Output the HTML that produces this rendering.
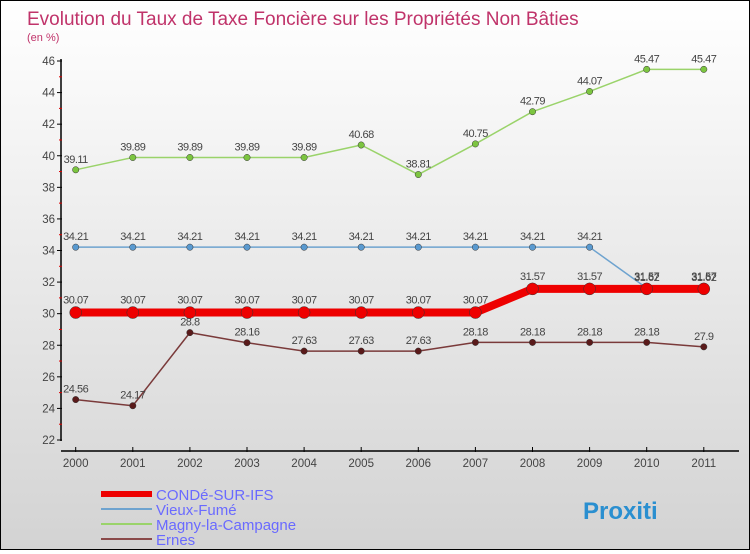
<!DOCTYPE html>
<html><head><meta charset="utf-8"><style>
body{margin:0}
#wrap{width:748px;height:548px;border:1px solid #000;background:linear-gradient(#fff,#d3d3d3);position:relative;font-family:"Liberation Sans",sans-serif}
</style></head><body>
<div id="wrap">
<svg id="chart" width="748" height="548"></svg>
</div>
<script>
const years=["2000","2001","2002","2003","2004","2005","2006","2007","2008","2009","2010","2011"];
const conde=[30.07,30.07,30.07,30.07,30.07,30.07,30.07,30.07,31.57,31.57,31.57,31.57];
const vieux=[34.21,34.21,34.21,34.21,34.21,34.21,34.21,34.21,34.21,34.21,31.62,31.62];
const magny=[39.11,39.89,39.89,39.89,39.89,40.68,38.81,40.75,42.79,44.07,45.47,45.47];
const ernes=[24.56,24.17,28.8,28.16,27.63,27.63,27.63,28.18,28.18,28.18,28.18,27.9];
const yTicks=[22,24,26,28,30,32,34,36,38,40,42,44,46];
const NS="http://www.w3.org/2000/svg";
const svg=document.getElementById('chart');
const X=i=>74.7+i*57.1;
const Y=v=>439-(v-22)*(379/24);
function mk(tag,attrs,parent){const e=document.createElementNS(NS,tag);for(const k in attrs)e.setAttribute(k,attrs[k]);(parent||svg).appendChild(e);return e;}
function txt(x,y,s,attrs){const t=mk('text',Object.assign({x:x,y:y},attrs));t.textContent=s;return t;}
let t=txt(26,24,"Evolution du Taux de Taxe Foncière sur les Propriétés Non Bâties",{fill:"#c0336a","font-size":"19"});

t=txt(26,40,"(en %)",{fill:"#c0336a","font-size":"11"});

// axes
let a=mk('line',{x1:60,y1:58,x2:60,y2:440,stroke:"#000","stroke-width":1.5});

a=mk('line',{x1:60,y1:450,x2:738,y2:450,stroke:"#000","stroke-width":1.5});

yTicks.forEach((v,i)=>{
 mk('line',{x1:56,y1:Y(v),x2:61,y2:Y(v),stroke:"#000"});
 if(i<yTicks.length-1) mk('line',{x1:58,y1:Y(v+1),x2:61,y2:Y(v+1),stroke:"#d00"});
 const l=txt(54,Y(v)+4,String(v),{fill:"#444","font-size":"11.5","text-anchor":"end"});
 
});
years.forEach((y,i)=>{
 mk('line',{x1:X(i),y1:446,x2:X(i),y2:451,stroke:"#000"});
 const l=txt(X(i),466,y,{fill:"#444","font-size":"11.5","text-anchor":"middle"});
 
});
function series(name,data,color,w,r,dot,lblColor,dy){
 const g=mk('g',{});
 
 mk('polyline',{points:data.map((v,i)=>X(i)+','+Y(v)).join(' '),fill:"none",stroke:color,"stroke-width":w,"stroke-linejoin":"round"},g);
 data.forEach((v,i)=>{
  const c=mk('circle',{cx:X(i),cy:Y(v),r:r,fill:dot,stroke:"#333","stroke-width":0.5},g);
  
  const l=txt(X(i),Y(v)+dy,String(v),{fill:"#444","font-size":"11","text-anchor":"middle","letter-spacing":"-0.5"},g);
  
 });
}
series('magny',magny,"#9ad36a",1.5,3.2,"#7cc540","#444",-7);
series('vieux',vieux,"#6ea3cf",1.5,3.2,"#5a9ad0","#444",-7);
series('ernes',ernes,"#7a3a3a",1.5,3.2,"#5a1a1a","#444",-7);
series('conde',conde,"#ee0000",8,6,"#ee0000","#444",-9);
// legend
const leg=[["CONDé-SUR-IFS","#ee0000",6],["Vieux-Fumé","#6ea3cf",2],["Magny-la-Campagne","#9ad36a",2],["Ernes","#8a4a4a",2]];
leg.forEach((e,i)=>{
 const g=mk('g',{});
 
 const y=493+i*15;
 mk('line',{x1:100,y1:y,x2:151,y2:y,stroke:e[1],"stroke-width":e[2]},g);
 txt(155,y+6,e[0],{fill:"#6a6aff","font-size":"15"},g);
});
t=txt(582,518,"Proxiti",{fill:"#2a8fd0","font-size":"24","font-weight":"bold"});

</script>
</body></html>
